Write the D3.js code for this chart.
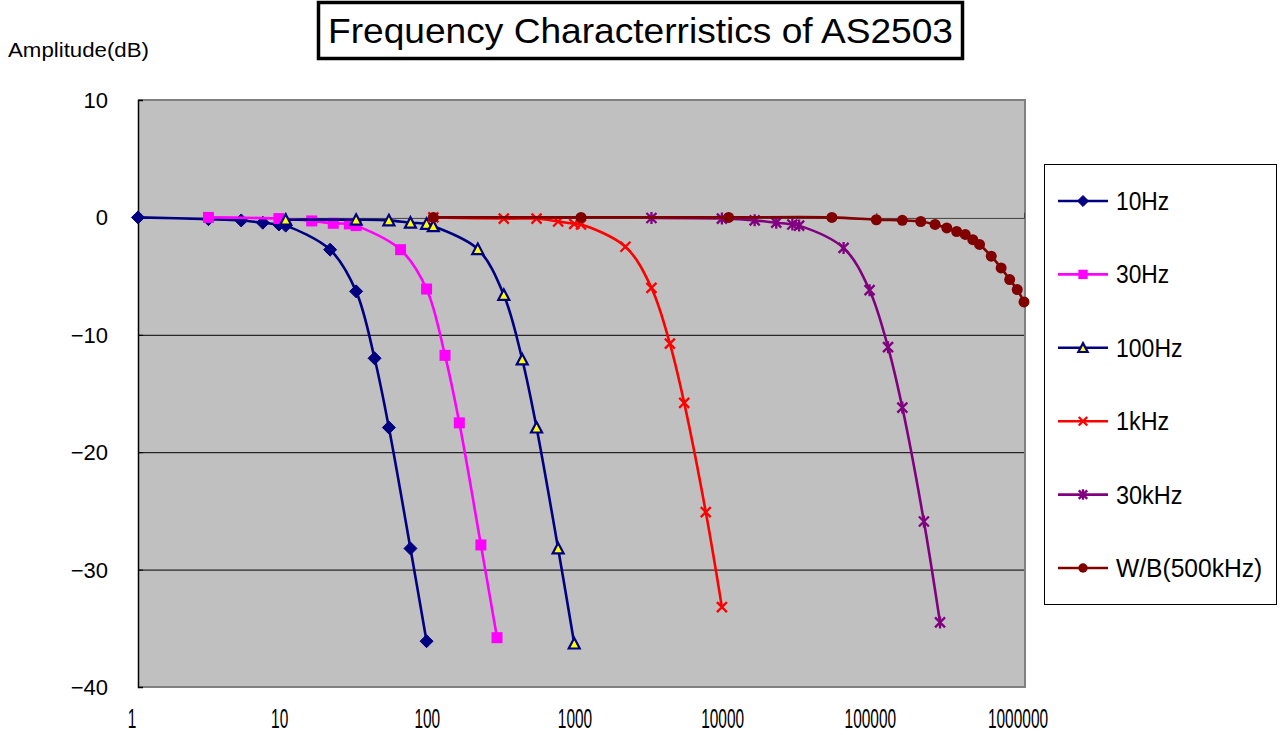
<!DOCTYPE html>
<html>
<head>
<meta charset="utf-8">
<script src="https://cdn.jsdelivr.net/npm/d3@7"></script>
<style>
  html, body { margin: 0; padding: 0; background: #ffffff; }
  svg { display: block; }
</style>
</head>
<body>
<svg id="chart" width="1280" height="735"></svg>
<script>
// ---- data ----
const seriesNames = ["10Hz", "30Hz", "100Hz", "1kHz", "30kHz", "W/B(500kHz)"];

const freq10 = [1, 3, 5, 7, 9, 10, 20, 30, 40, 50, 70, 90];
const amp10  = [0, -0.15, -0.26, -0.45, -0.6, -0.7, -2.75, -6.3, -12.0, -17.9, -28.2, -36.1];

const freq30 = [3, 9, 15, 21, 27, 30, 60, 90, 120, 150, 210, 270];
const amp30  = [0, -0.1, -0.3, -0.5, -0.55, -0.7, -2.75, -6.1, -11.75, -17.5, -27.9, -35.8];

const freq100 = [10, 30, 50, 70, 90, 100, 200, 300, 400, 500, 700, 900];
const amp100  = [-0.2, -0.2, -0.25, -0.45, -0.55, -0.75, -2.7, -6.6, -12.1, -17.9, -28.2, -36.3];

const freq1k = [100, 300, 500, 700, 900, 1000, 2000, 3000, 4000, 5000, 7000, 9000];
const amp1k  = [0, -0.1, -0.1, -0.35, -0.55, -0.6, -2.5, -6.0, -10.75, -15.8, -25.1, -33.2];

const freq30k = [3000, 9000, 15000, 21000, 27000, 30000, 60000, 90000, 120000, 150000, 210000, 270000];
const amp30k  = [-0.05, -0.1, -0.25, -0.45, -0.6, -0.7, -2.6, -6.2, -11.05, -16.2, -25.9, -34.5];

const freqWB = [100, 1000, 10000, 50000, 100000, 150000, 200000, 250000, 300000, 350000, 400000, 450000, 500000, 600000, 700000, 800000, 900000, 1000000];
const ampWB  = [0, 0, 0, 0, -0.2, -0.25, -0.35, -0.6, -0.9, -1.2, -1.45, -1.9, -2.3, -3.3, -4.3, -5.3, -6.15, -7.2];

const xTicks = [1, 10, 100, 1000, 10000, 100000, 1000000];
const yTicks = [10, 0, -10, -20, -30, -40];
const gridValues = [-10, -20, -30];

const titleText = "Frequency Characterristics of AS2503";
const yAxisTitle = "Amplitude(dB)";

// ---- style ----
const colors = ["#000080", "#FF00FF", "#000080", "#FF0000", "#800080", "#800000"];
const markers = ["diamond", "square", "triangle", "x", "star", "circle"];

const series = [
  {f: freq10, a: amp10}, {f: freq30, a: amp30}, {f: freq100, a: amp100},
  {f: freq1k, a: amp1k}, {f: freq30k, a: amp30k}, {f: freqWB, a: ampWB}
].map((s, i) => ({
  name: seriesNames[i], color: colors[i], marker: markers[i],
  points: s.f.map((f, j) => ({f: f, a: s.a[j]}))
}));

const svg = d3.select("#chart");
const L = 138, R = 1024, T = 100, B = 687;

const x = d3.scaleLog().domain([1, 1000000]).range([L, R]);
const y = d3.scaleLinear().domain([-40, 10]).range([B, T]);

// plot background
svg.append("rect").attr("x", L).attr("y", T).attr("width", R - L).attr("height", B - T)
  .attr("fill", "#C0C0C0");

// gridlines
svg.append("g").selectAll("line").data(gridValues).join("line")
  .attr("x1", L).attr("x2", R).attr("y1", d => y(d) + 0.5).attr("y2", d => y(d) + 0.5)
  .attr("stroke", "#000").attr("stroke-width", 1);

// plot border (gray)
svg.append("path")
  .attr("d", `M${L},${T} H${R + 1} V${B} H${L}`)
  .attr("fill", "none").attr("stroke", "#808080").attr("stroke-width", 2);

// y axis
const yAxis = d3.axisRight(y).tickValues(yTicks).tickSize(5).tickFormat("");
const gy = svg.append("g").attr("transform", `translate(${L},0)`).call(yAxis);
gy.select(".domain").attr("stroke", "#000").attr("stroke-width", 1.5);
gy.selectAll(".tick line").attr("stroke", "#000");

// y tick labels
svg.append("g").selectAll("text").data(yTicks).join("text")
  .attr("x", 108).attr("y", d => y(d) + 8)
  .attr("text-anchor", "end")
  .attr("font-family", "'Liberation Sans', Arial, sans-serif")
  .attr("font-size", 22)
  .attr("fill", "#000")
  .text(d => d < 0 ? "\u2212" + Math.abs(d) : String(d));

// x axis at y=0
const xAxis = d3.axisTop(x).tickValues(xTicks).tickSize(5).tickFormat("");
const gx = svg.append("g").attr("transform", `translate(0,${y(0) + 0.5})`).call(xAxis);
gx.select(".domain").attr("stroke", "#404040").attr("stroke-width", 1);
gx.selectAll(".tick line").attr("stroke", "#404040");

// x tick labels (low position)
svg.append("g").selectAll("text").data(xTicks).join("text")
  .attr("x", d => x(d) - 6).attr("y", 728)
  .attr("text-anchor", "middle")
  .attr("font-family", "'Liberation Sans', Arial, sans-serif")
  .attr("font-size", 27)
  .attr("textLength", d => String(d).length * 8.6)
  .attr("lengthAdjust", "spacingAndGlyphs")
  .attr("fill", "#000")
  .text(d => String(d));

// markers
function drawMarker(g, type, color, cx, cy, scale) {
  const s = scale || 1;
  if (type === "diamond") {
    const r = 6.5 * s;
    g.append("path").attr("d", `M${cx},${cy - r}L${cx + r},${cy}L${cx},${cy + r}L${cx - r},${cy}Z`)
      .attr("fill", color).attr("stroke", color).attr("stroke-width", 1);
  } else if (type === "square") {
    const h = 5.5 * s;
    g.append("rect").attr("x", cx - h).attr("y", cy - h).attr("width", 2 * h).attr("height", 2 * h)
      .attr("fill", color);
  } else if (type === "triangle") {
    const h = 5.5 * s;
    g.append("path").attr("d", `M${cx},${cy - h}L${cx + h},${cy + h * 0.9}L${cx - h},${cy + h * 0.9}Z`)
      .attr("fill", "#FFFF00").attr("stroke", color).attr("stroke-width", 2.2)
      .attr("stroke-linejoin", "miter");
  } else if (type === "x") {
    const h = 5 * s;
    g.append("path").attr("d", `M${cx - h},${cy - h}L${cx + h},${cy + h}M${cx - h},${cy + h}L${cx + h},${cy - h}`)
      .attr("stroke", color).attr("stroke-width", 2.3).attr("fill", "none");
  } else if (type === "star") {
    const h = 5 * s;
    g.append("path").attr("d", `M${cx - h},${cy - h}L${cx + h},${cy + h}M${cx - h},${cy + h}L${cx + h},${cy - h}M${cx},${cy - h - 1}L${cx},${cy + h + 1}`)
      .attr("stroke", color).attr("stroke-width", 2.3).attr("fill", "none");
  } else if (type === "circle") {
    g.append("circle").attr("cx", cx).attr("cy", cy).attr("r", 5.5 * s)
      .attr("fill", color);
  }
}

const line = d3.line()
  .x(d => x(d.f)).y(d => y(d.a))
  .curve(d3.curveCatmullRom.alpha(0.5));

const plot = svg.append("g");
series.forEach(s => {
  const g = plot.append("g");
  g.append("path").datum(s.points).attr("d", line)
    .attr("fill", "none").attr("stroke", s.color).attr("stroke-width", 2.6)
    .attr("stroke-linejoin", "round");
  s.points.forEach(p => drawMarker(g, s.marker, s.color, x(p.f), y(p.a)));
});

// title box
svg.append("rect").attr("x", 318.5).attr("y", 2.5).attr("width", 644).attr("height", 56)
  .attr("fill", "#fff").attr("stroke", "#000").attr("stroke-width", 3.5);
svg.append("text").attr("x", 328).attr("y", 43)
  .attr("font-family", "'Liberation Sans', Arial, sans-serif")
  .attr("font-size", 35)
  .attr("textLength", 625).attr("lengthAdjust", "spacingAndGlyphs")
  .attr("fill", "#000")
  .text(titleText);

// y axis title
svg.append("text").attr("x", 8).attr("y", 57)
  .attr("font-family", "'Liberation Sans', Arial, sans-serif")
  .attr("font-size", 20)
  .attr("textLength", 141).attr("lengthAdjust", "spacingAndGlyphs")
  .attr("fill", "#000")
  .text(yAxisTitle);

// legend
const lg = svg.append("g");
lg.append("rect").attr("x", 1044.5).attr("y", 164.5).attr("width", 232).attr("height", 440)
  .attr("fill", "#fff").attr("stroke", "#000").attr("stroke-width", 1);
const legendY = d3.scalePoint().domain(seriesNames).range([201, 568]);
series.forEach(s => {
  const cy = legendY(s.name);
  lg.append("line").attr("x1", 1058).attr("x2", 1108).attr("y1", cy).attr("y2", cy)
    .attr("stroke", s.color).attr("stroke-width", 2.6);
  drawMarker(lg, s.marker, s.color, 1083, cy, 0.85);
  lg.append("text").attr("x", 1116).attr("y", cy + 9)
    .attr("font-family", "'Liberation Sans', Arial, sans-serif")
    .attr("font-size", 25)
    .attr("textLength", s.name.length * 13.3).attr("lengthAdjust", "spacingAndGlyphs")
    .attr("fill", "#000")
    .text(s.name);
});
</script>
</body>
</html>
